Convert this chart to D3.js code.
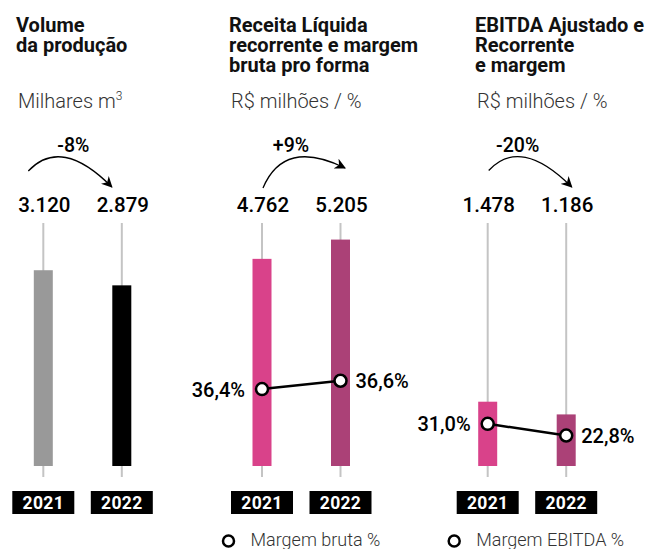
<!DOCTYPE html>
<html>
<head>
<meta charset="utf-8">
<script src="https://cdn.jsdelivr.net/npm/d3@7"></script>
<style>
  body { margin: 0; background: #fff; }
  text { font-family: Roboto, "Noto Sans", sans-serif; }
</style>
</head>
<body>
<div id="container"></div>
<script>
/* DATA */
const years = ["2021", "2022"];
const volume = [3120, 2879];
const receita = [4762, 5205];
const ebitda = [1478, 1186];
const margemBruta = [36.4, 36.6];
const margemEbitda = [31.0, 22.8];
const changes = ["-8%", "+9%", "-20%"];
const titles = [
  ["Volume", "da produção"],
  ["Receita Líquida", "recorrente e margem", "bruta pro forma"],
  ["EBITDA Ajustado e", "Recorrente", "e margem"]
];
const units = ["Milhares m", "R$ milhões / %", "R$ milhões / %"];
const legendLabels = ["Margem bruta %", "Margem EBITDA %"];

/* CONSTANTS */
const width = 647;
const height = 549;
const base = 466;       // bottom of the bars
const barW = 19;

const br = d3.formatLocale({decimal: ",", thousands: ".", grouping: [3], currency: ["R$", ""]});
const fmtVal = br.format(",d");
const fmtPct = br.format(".1f");

const svg = d3.select("#container")
  .append("svg")
  .attr("width", width)
  .attr("height", height);

svg.append("defs").append("marker")
  .attr("id", "head")
  .attr("viewBox", "0 0 10 10")
  .attr("refX", 9)
  .attr("refY", 5)
  .attr("markerWidth", 11)
  .attr("markerHeight", 11)
  .attr("markerUnits", "userSpaceOnUse")
  .attr("orient", "auto")
  .append("path")
  .attr("d", "M0,0 L10,5 L0,10 L3,5 Z")
  .attr("fill", "#000");

// panel layout
const panels = [
  {x0: 43.3, left: 16, values: volume, colors: ["#999999", "#000000"],
   y: d3.scaleLinear().domain([0, 4000]).range([base, base - 251]),
   arrow: [[-15, 171], [18, 136], [68.5, 187]], changeX: 30},
  {x0: 262, left: 229, values: receita, colors: ["#d9428a", "#ab4177"],
   y: d3.scaleLinear().domain([0, 6000]).range([base, base - 261]),
   margins: margemBruta,
   m: d3.scaleLinear().domain([36.3, 36.7]).range([393.2, 376.6]),
   arrow: [[1, 188], [22, 138], [83, 168]], changeX: 29},
  {x0: 487.7, left: 475, values: ebitda, colors: ["#d9428a", "#ab4177"],
   y: d3.scaleLinear().domain([0, 6000]).range([base, base - 261]),
   margins: margemEbitda,
   m: d3.scaleLinear().domain([0, 40]).range([468, 411]),
   arrow: [[1, 170.5], [33, 136], [84, 187]], changeX: 30}
];

panels.forEach((p, i) => {
  const x = d3.scalePoint().domain(years).range([p.x0, p.x0 + 78.5]);
  const g = svg.append("g");

  // title
  g.append("text")
    .attr("font-size", 20)
    .attr("font-weight", 700)
    .attr("fill", "#111")
    .selectAll("tspan")
    .data(titles[i])
    .join("tspan")
    .attr("x", p.left)
    .attr("y", (d, k) => 31.5 + k * 20)
    .text(d => d);

  // unit
  const u = g.append("text")
    .attr("x", p.left + 2)
    .attr("y", 108)
    .attr("font-size", 20)
    .attr("font-weight", 300)
    .attr("fill", "#333")
    .text(units[i]);
  if (i === 0) u.append("tspan").attr("font-size", 12).attr("dy", -8).text("3");

  // change arrow
  const [a, c, e] = p.arrow;
  g.append("path")
    .attr("d", `M${p.x0 + a[0]},${a[1]} Q${p.x0 + c[0]},${c[1]} ${p.x0 + e[0]},${e[1]}`)
    .attr("fill", "none")
    .attr("stroke", "#000")
    .attr("stroke-width", 1.3)
    .attr("marker-end", "url(#head)");

  g.append("text")
    .attr("x", p.x0 + p.changeX)
    .attr("y", 152)
    .attr("text-anchor", "middle")
    .attr("font-size", 19.5)
    .attr("font-weight", 500)
    .text(changes[i]);

  // grey guides
  g.selectAll(".guide")
    .data(years)
    .join("line")
    .attr("x1", d => x(d))
    .attr("x2", d => x(d))
    .attr("y1", 223)
    .attr("y2", 477)
    .attr("stroke", "#c4c4c4")
    .attr("stroke-width", 2);

  // value labels
  g.selectAll(".val")
    .data(p.values)
    .join("text")
    .attr("x", (d, k) => x(years[k]) + 1)
    .attr("y", 212)
    .attr("text-anchor", "middle")
    .attr("font-size", 20.5)
    .attr("font-weight", 500)
    .text(d => fmtVal(d));

  // bars
  g.selectAll("rect.bar")
    .data(p.values)
    .join("rect")
    .attr("x", (d, k) => x(years[k]) - barW / 2)
    .attr("y", d => p.y(d))
    .attr("width", barW)
    .attr("height", d => base - p.y(d))
    .attr("fill", (d, k) => p.colors[k]);

  // year boxes
  const yr = g.selectAll(".yr")
    .data(years)
    .join("g")
    .attr("transform", d => `translate(${x(d)},0)`);
  yr.append("rect")
    .attr("x", -31)
    .attr("y", 491)
    .attr("width", 62)
    .attr("height", 23)
    .attr("fill", "#000");
  yr.append("text")
    .attr("y", 509)
    .attr("text-anchor", "middle")
    .attr("fill", "#fff")
    .attr("font-size", 17.5)
    .attr("font-weight", 700)
    .attr("letter-spacing", 0.3)
    .text(d => d);

  // margin line
  if (p.margins) {
    const line = d3.line()
      .x((d, k) => x(years[k]))
      .y(d => p.m(d));
    g.append("path")
      .datum(p.margins)
      .attr("d", line)
      .attr("fill", "none")
      .attr("stroke", "#000")
      .attr("stroke-width", 2.5);
    g.selectAll("circle.pt")
      .data(p.margins)
      .join("circle")
      .attr("cx", (d, k) => x(years[k]))
      .attr("cy", d => p.m(d))
      .attr("r", 6)
      .attr("fill", "#fff")
      .attr("stroke", "#000")
      .attr("stroke-width", 2.5);
    g.selectAll("text.pct")
      .data(p.margins)
      .join("text")
      .attr("x", (d, k) => x(years[k]) + (k === 0 ? -17 : 15))
      .attr("y", d => p.m(d) + 7.5)
      .attr("text-anchor", (d, k) => k === 0 ? "end" : "start")
      .attr("font-size", 20)
      .attr("font-weight", 500)
      .text(d => fmtPct(d) + "%");

    // legend
    const lg = g.append("g").attr("transform", `translate(${p.x0 - 33.5},541)`);
    lg.append("circle")
      .attr("r", 5.5)
      .attr("fill", "#fff")
      .attr("stroke", "#000")
      .attr("stroke-width", 2.5);
    lg.append("text")
      .attr("x", 22)
      .attr("y", 5)
      .attr("font-size", 18)
      .attr("font-weight", 300)
      .attr("fill", "#333")
      .text(legendLabels[i - 1]);
  }
});
</script>
</body>
</html>
